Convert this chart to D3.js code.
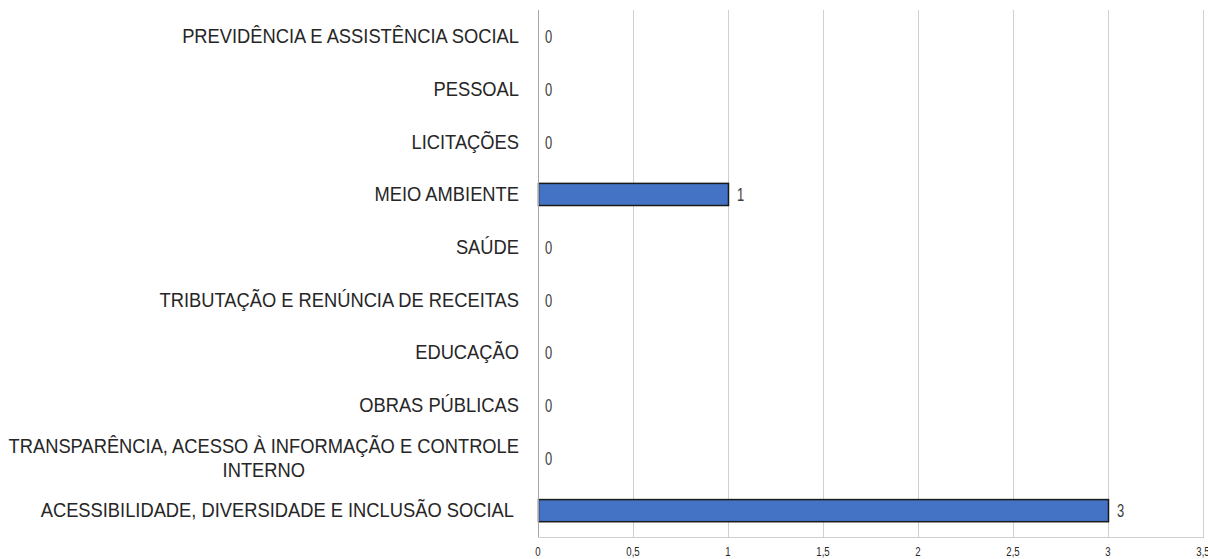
<!DOCTYPE html>
<html>
<head>
<meta charset="utf-8">
<script src="https://cdn.jsdelivr.net/npm/d3@7"></script>
<style>
  body { margin: 0; background: #fff; }
  text { font-family: "Liberation Sans Narrow", "Arial Narrow", "Liberation Sans", sans-serif; white-space: pre; }
</style>
</head>
<body>
<svg id="chart" width="1208" height="559"></svg>
<script>
// categories top to bottom, as in the picture ("|" marks the line break)
var categories = [
  "PREVIDÊNCIA E ASSISTÊNCIA SOCIAL",
  "PESSOAL",
  "LICITAÇÕES",
  "MEIO AMBIENTE",
  "SAÚDE",
  "TRIBUTAÇÃO E RENÚNCIA DE RECEITAS",
  "EDUCAÇÃO",
  "OBRAS PÚBLICAS",
  "TRANSPARÊNCIA, ACESSO À INFORMAÇÃO E CONTROLE|INTERNO",
  "ACESSIBILIDADE, DIVERSIDADE E INCLUSÃO SOCIAL\u00a0"
];
var values = [0, 0, 0, 1, 0, 0, 0, 0, 0, 3];
var ticks = [0, 0.5, 1, 1.5, 2, 2.5, 3, 3.5];
var tickLabels = ["0", "0,5", "1", "1,5", "2", "2,5", "3", "3,5"];

var svg = d3.select("#chart");
var plotTop = 10, plotBottom = 537;

var x = d3.scaleLinear().domain([0, 3.5]).range([538, 1203]);
var y = d3.scaleBand().domain(d3.range(categories.length))
  .range([plotTop, plotBottom]).paddingInner(0.58).paddingOuter(0.29);

// squeeze text horizontally to look like a narrow face
function place(sel, px, py, k) {
  return sel.attr("transform", "translate(" + px + "," + py + ") scale(" + k + ",1)");
}

// gridlines
svg.append("g").selectAll("line").data(ticks.slice(1)).enter().append("line")
  .attr("x1", function(d) { return Math.round(x(d)) + 0.5; })
  .attr("x2", function(d) { return Math.round(x(d)) + 0.5; })
  .attr("y1", plotTop).attr("y2", plotBottom)
  .attr("stroke", "#d0d0d0");

// bottom line
svg.append("line")
  .attr("x1", x(0)).attr("x2", x(3.5) + 1)
  .attr("y1", plotBottom + 0.5).attr("y2", plotBottom + 0.5)
  .attr("stroke", "#d0d0d0");

// bars
svg.append("g").selectAll("rect")
  .data(values.map(function(v, i) { return { v: v, i: i }; }).filter(function(d) { return d.v > 0; }))
  .enter().append("rect")
  .attr("x", x(0) + 0.5)
  .attr("y", function(d) { return y(d.i); })
  .attr("width", function(d) { return x(d.v) - x(0); })
  .attr("height", y.bandwidth())
  .attr("fill", "#4472c4")
  .attr("stroke", "#1a1a1a")
  .attr("stroke-width", 1.5);

// y axis line
svg.append("line")
  .attr("x1", x(0) + 0.5).attr("x2", x(0) + 0.5)
  .attr("y1", plotTop).attr("y2", plotBottom)
  .attr("stroke", "#a6a6a6");

// value labels
svg.append("g").selectAll("text").data(values).enter().append("text")
  .each(function(d, i) {
    place(d3.select(this), x(d) + (d > 0 ? 9 : 7), y(i) + y.bandwidth() / 2 + 0.5, 0.72);
  })
  .attr("dy", "0.35em")
  .attr("font-size", 18)
  .attr("fill", "#404040")
  .text(function(d) { return d; });

// category labels
var labelRight = 519, catK = 0.94;
var catG = svg.append("g");
categories.forEach(function(c, i) {
  var parts = c.split("|");
  var cy = y(i) + y.bandwidth() / 2;
  if (parts.length === 1) {
    place(catG.append("text"), labelRight, cy, catK)
      .attr("dy", "0.35em")
      .attr("text-anchor", "end").attr("font-size", 19.5).attr("fill", "#262626")
      .text(c);
  } else {
    var t1 = place(catG.append("text"), labelRight, cy - 12, catK)
      .attr("dy", "0.35em")
      .attr("text-anchor", "end").attr("font-size", 19.5).attr("fill", "#262626")
      .text(parts[0]);
    var w1 = t1.node().getComputedTextLength() * catK;
    place(catG.append("text"), labelRight - w1 / 2, cy + 12, catK)
      .attr("dy", "0.35em")
      .attr("text-anchor", "middle").attr("font-size", 19.5).attr("fill", "#262626")
      .text(parts[1]);
  }
});

// x tick labels
svg.append("g").selectAll("text").data(ticks).enter().append("text")
  .each(function(d) { place(d3.select(this), x(d), 552, 0.8); })
  .attr("dy", "0.35em")
  .attr("text-anchor", "middle").attr("font-size", 12).attr("fill", "#262626")
  .text(function(d, i) { return tickLabels[i]; });
</script>
</body>
</html>
